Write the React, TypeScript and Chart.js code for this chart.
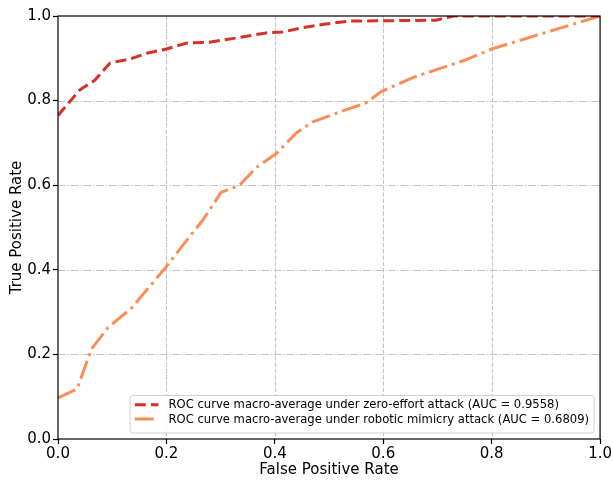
import React, { useEffect, useRef } from "react";
import { Chart, registerables } from "chart.js";

Chart.register(...registerables);

const fprZero = [0, 0.040, 0.068, 0.096, 0.132, 0.164, 0.200, 0.237, 0.279, 0.329, 0.384, 0.414, 0.450, 0.494, 0.537, 0.697, 0.730, 1.0];
const tprZero = [0.765, 0.825, 0.848, 0.889, 0.898, 0.912, 0.922, 0.936, 0.938, 0.948, 0.960, 0.962, 0.972, 0.981, 0.988, 0.990, 1.0, 1.0];

const fprRobot = [0, 0.035, 0.062, 0.092, 0.136, 0.197, 0.237, 0.267, 0.301, 0.335, 0.366, 0.403, 0.439, 0.469, 0.530, 0.568, 0.597, 0.660, 0.752, 0.800, 0.910, 1.0];
const tprRobot = [0.097, 0.118, 0.213, 0.263, 0.310, 0.403, 0.469, 0.517, 0.583, 0.600, 0.642, 0.675, 0.723, 0.749, 0.778, 0.794, 0.822, 0.857, 0.896, 0.922, 0.965, 1.0];

const gridValues = [0.2, 0.4, 0.6, 0.8];
const seriesLabels = [
  "ROC curve macro-average under zero-effort attack (AUC = 0.9558)",
  "ROC curve macro-average under robotic mimicry attack (AUC = 0.6809)",
];
const seriesColors = ["#d73027", "#fc8d59"];
const FONT = "'DejaVu Sans', sans-serif";

const gridPlugin = {
  id: "mplGrid",
  beforeDatasetsDraw(chart: any) {
    const { ctx, chartArea: a, scales } = chart;
    ctx.save();
    ctx.strokeStyle = "#c4c4c4";
    ctx.lineWidth = 1.1;
    ctx.setLineDash([4.4, 1.9]);
    for (const v of gridValues) {
      const x = Math.round(scales.x.getPixelForValue(v)) + 0.5;
      ctx.beginPath();
      ctx.moveTo(x, a.top);
      ctx.lineTo(x, a.bottom);
      ctx.stroke();
    }
    ctx.setLineDash([7.7, 1.9, 1.2, 1.9]);
    for (const v of gridValues) {
      const y = Math.round(scales.y.getPixelForValue(v)) + 0.5;
      ctx.beginPath();
      ctx.moveTo(a.left, y);
      ctx.lineTo(a.right, y);
      ctx.stroke();
    }
    ctx.restore();
  },
  afterDatasetsDraw(chart: any) {
    const { ctx, chartArea: a } = chart;
    ctx.save();
    ctx.strokeStyle = "#000";
    ctx.lineWidth = 1.2;
    ctx.setLineDash([]);
    ctx.strokeRect(a.left, a.top, a.right - a.left, a.bottom - a.top);

    // legend
    ctx.font = `11.6px ${FONT}`;
    let maxW = 0;
    for (const l of seriesLabels) maxW = Math.max(maxW, ctx.measureText(l).width);
    const right = a.right - 6;
    const bottom = a.bottom - 6;
    const textOff = 38.4;
    const w = textOff + maxW + 5;
    const h = 37.5;
    const left = right - w;
    const top = bottom - h;
    ctx.beginPath();
    ctx.roundRect(left, top, w, h, 3);
    ctx.fillStyle = "rgba(255,255,255,0.85)";
    ctx.fill();
    ctx.strokeStyle = "#d0d0d0";
    ctx.lineWidth = 1;
    ctx.stroke();
    const rows = [top + 9.2, top + 23.5];
    const dashes = [[11, 5], [19, 5, 3, 5]];
    seriesLabels.forEach((l, i) => {
      ctx.strokeStyle = seriesColors[i];
      ctx.lineWidth = 3;
      ctx.lineCap = "butt";
      ctx.setLineDash(dashes[i]);
      ctx.beginPath();
      ctx.moveTo(left + 4.7, rows[i]);
      ctx.lineTo(left + 28.4, rows[i]);
      ctx.stroke();
      ctx.setLineDash([]);
      ctx.fillStyle = "#000";
      ctx.textBaseline = "middle";
      ctx.textAlign = "left";
      ctx.fillText(l, left + textOff, rows[i] + 0.5);
    });
    ctx.restore();
  },
};

export default function App() {
  const ref = useRef<HTMLCanvasElement>(null);
  useEffect(() => {
    document.body.style.margin = "0";
    const canvas = ref.current!;
    const chart = new Chart(canvas, {
      type: "line",
      data: {
        datasets: [
          {
            label: seriesLabels[0],
            data: fprZero.map((x, i) => ({ x, y: tprZero[i] })),
            borderColor: seriesColors[0],
            backgroundColor: seriesColors[0],
            borderWidth: 3,
            borderDash: [11, 5],
            borderCapStyle: "butt",
            borderJoinStyle: "round",
            pointRadius: 0,
            tension: 0,
            fill: false,
          },
          {
            label: seriesLabels[1],
            data: fprRobot.map((x, i) => ({ x, y: tprRobot[i] })),
            borderColor: seriesColors[1],
            backgroundColor: seriesColors[1],
            borderWidth: 3,
            borderDash: [19, 5, 3, 5],
            borderCapStyle: "butt",
            borderJoinStyle: "round",
            pointRadius: 0,
            tension: 0,
            fill: false,
          },
        ],
      },
      options: {
        animation: false,
        responsive: false,
        devicePixelRatio: 1,
        layout: { padding: { top: 16, right: 11, left: 0, bottom: 0 } },
        plugins: { legend: { display: false }, tooltip: { enabled: false } },
        scales: {
          x: {
            type: "linear",
            min: 0,
            max: 1,
            afterFit: (s: any) => { s.height = 41; },
            ticks: {
              stepSize: 0.2,
              color: "#000",
              padding: 1,
              maxRotation: 0,
              font: { family: FONT, size: 15 },
              callback: (v: any) => Number(v).toFixed(1),
            },
            grid: { display: true, drawOnChartArea: false, drawTicks: true, tickLength: 5, tickColor: "#000", tickWidth: 1.2, color: "rgba(0,0,0,0)" },
            border: { display: false },
            title: { display: true, text: "False Positive Rate", color: "#000", font: { family: FONT, size: 15, lineHeight: 1.2 }, padding: { top: 0, bottom: 1 } },
          },
          y: {
            type: "linear",
            min: 0,
            max: 1,
            afterFit: (s: any) => { s.width = 58; },
            ticks: {
              stepSize: 0.2,
              color: "#000",
              padding: 2,
              font: { family: FONT, size: 15 },
              callback: (v: any) => Number(v).toFixed(1),
            },
            grid: { display: true, drawOnChartArea: false, drawTicks: true, tickLength: 5, tickColor: "#000", tickWidth: 1.2, color: "rgba(0,0,0,0)" },
            border: { display: false },
            title: { display: true, text: "True Positive Rate", color: "#000", font: { family: FONT, size: 15, lineHeight: 1.2 }, padding: { top: 8, bottom: 0 } },
          },
        },
      },
      plugins: [gridPlugin],
    } as any);
    return () => chart.destroy();
  }, []);
  return <canvas ref={ref} width={613} height={480} style={{ display: "block", width: 613, height: 480 }} />;
}
